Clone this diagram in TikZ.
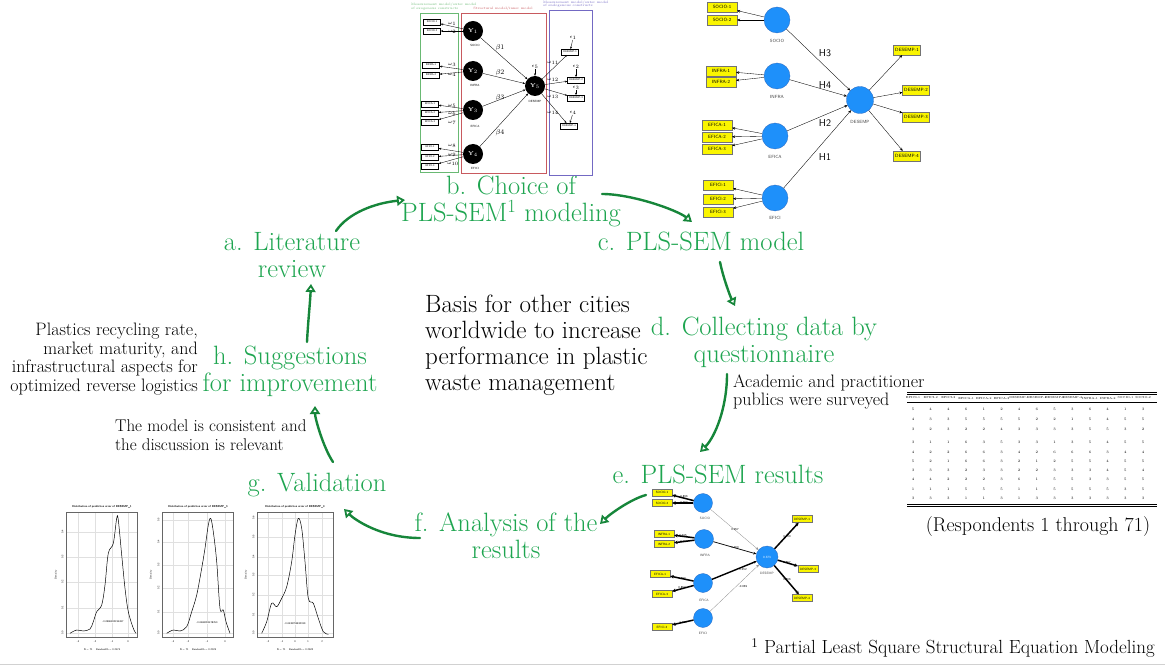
\documentclass[tikz,border=0pt]{standalone}
\usepackage{tikz}
\usetikzlibrary{arrows.meta,calc}

\definecolor{stagegreen}{RGB}{30,165,80}
\definecolor{handgreen}{RGB}{22,134,58}
\definecolor{lvblue}{RGB}{30,144,250}
\definecolor{lvedge}{RGB}{45,105,190}
\definecolor{mvyellow}{RGB}{250,245,0}
\definecolor{exogreen}{RGB}{105,185,115}
\definecolor{innerred}{RGB}{200,90,95}
\definecolor{endoblue}{RGB}{115,105,195}

\begin{document}
\begin{tikzpicture}[x=1pt,y=-1pt,
  stage/.style={text=stagegreen, align=center, inner sep=0pt, font=\fontsize{26.5}{27}\selectfont},
  remark/.style={inner sep=0pt, font=\fontsize{18}{18.8}\selectfont},
  stagearrow/.style={draw=handgreen, line width=2.4pt, line cap=round, line join=round,
    -{Triangle[open,length=8pt,width=10pt,line width=1.8pt]}},
  latent/.style={circle, fill=black, minimum size=20pt, inner sep=0pt, text=white,
    font=\bfseries\fontsize{5.5}{5.5}\selectfont},
  itembox/.style={draw, line width=0.35pt, fill=white, inner sep=0pt, minimum width=17pt,
    minimum height=5.5pt, font=\sffamily\fontsize{2.6}{3}\selectfont},
  tinylab/.style={inner sep=0pt, font=\sffamily\fontsize{3}{3.4}\selectfont},
  greek/.style={inner sep=0pt, font=\fontsize{5}{5}\selectfont},
  thinarrow/.style={-{Stealth[length=2.5pt,width=2pt]}, line width=0.35pt},
  lv/.style={circle, fill=lvblue, draw=lvedge, line width=0.3pt, inner sep=0pt},
  mv/.style={draw=black!55, fill=mvyellow, line width=0.3pt, inner sep=0pt},
  lvname/.style={inner sep=0pt, text=black!75, font=\sffamily\fontsize{4.5}{5}\selectfont},
  weight/.style={inner sep=0.2pt, font=\sffamily\fontsize{3}{3}\selectfont},
  pathlink/.style={-{Stealth[length=3pt,width=2.6pt]}, line width=0.35pt},
  plotframe/.style={draw=black!60, line width=0.5pt},
  gridline/.style={draw=black!12, line width=0.4pt},
  axislab/.style={inner sep=0pt, font=\sffamily\fontsize{2.6}{3}\selectfont},
  cell/.style={inner sep=0pt, font=\fontsize{3.6}{4}\selectfont}
]
\useasboundingbox (0,0) rectangle (1165,668);

% --- the cycle of stages
\node[stage] (litrev) at (292,255) {a. Literature\\review};
\node[stage] (choice) at (511,201) {b. Choice of\\PLS-SEM\textsuperscript{1} modeling};
\node[stage] (plsmodel) at (701,241) {c. PLS-SEM model};
\node[stage] (collect) at (764,342) {d. Collecting data by\\questionnaire};
\node[stage] (results) at (718,474) {e. PLS-SEM results};
\node[stage] (analysis) at (506,536) {f. Analysis of the\\results};
\node[stage] (valid) at (317,485) {g. Validation};
\node[stage] (suggest) at (290,371) {h. Suggestions\\for improvement};

\draw[stagearrow] ($(litrev.center)+(44,-24)$) .. controls +(12,-18) and +(-30,3) .. ($(choice.center)+(-106,-1)$);
\draw[stagearrow] ($(choice.center)+(91,-7)$) .. controls +(30,0) and +(-15,-12) .. ($(plsmodel.center)+(-9,-19)$);
\draw[stagearrow] ($(plsmodel.center)+(19,21)$) .. controls +(3,15) and +(-5,-10) .. ($(collect.center)+(-29,-36)$);
\draw[stagearrow] ($(collect.center)+(-37,32)$) .. controls +(0,34) and +(15,-15) .. ($(results.center)+(-18,-22)$);
\draw[stagearrow] ($(results.center)+(-72,21)$) .. controls +(-15,4) and +(10,-10) .. ($(analysis.center)+(94,-12)$);
\draw[stagearrow] ($(analysis.center)+(-86,2)$) .. controls +(-40,0) and +(10,10) .. ($(valid.center)+(27,24)$);
\draw[stagearrow] ($(valid.center)+(16,-23)$) .. controls +(-10,-15) and +(0,12) .. ($(suggest.center)+(25,35)$);
\draw[stagearrow] ($(suggest.center)+(17,-29)$) .. controls +(1,-20) and +(-1,20) .. ($(litrev.center)+(19,29)$);

% --- remarks
\node[inner sep=0pt, anchor=west, align=left, font=\fontsize{25}{26}\selectfont] (basis) at (425,345)
  {Basis for other cities\\worldwide to increase\\performance in plastic\\waste management};
\node[remark, anchor=east, align=right] (aspects) at (198,359)
  {Plastics recycling rate,\\market maturity, and\\infrastructural aspects for\\optimized reverse logistics};
\node[remark, anchor=west, align=left, font=\fontsize{17}{18.5}\selectfont] (consistent) at (115,435)
  {The model is consistent and\\the discussion is relevant};
\node[remark, anchor=west, align=left] (surveyed) at (733,392)
  {Academic and practitioner\\publics were surveyed};
\node[inner sep=0pt, font=\fontsize{20}{22}\selectfont] (respond) at (1038,527) {(Respondents 1 through 71)};
\node[inner sep=0pt, anchor=east, font=\fontsize{19}{21}\selectfont] (footnote) at (1155,648)
  {\textsuperscript{1} Partial Least Square Structural Equation Modeling};
\draw[black!18, line width=0.6pt] (0,664) -- (1165,664);

% --- sketch of structural and measurement models
\draw[exogreen, line width=0.6pt] (420,13) rectangle (458,172);
\draw[innerred, line width=0.6pt] (461,13) rectangle (546,173);
\draw[endoblue, line width=0.6pt] (549,10) rectangle (592,175);
\node[tinylab, font=\fontsize{3.3}{3.6}\selectfont, text=exogreen, align=left, anchor=west] (exotitle) at (411,6.5) {Measurement model/outer model\\of exogenous constructs};
\node[tinylab, font=\fontsize{3.3}{3.6}\selectfont, text=innerred] (innertitle) at (503,9) {Structural model/inner model};
\node[tinylab, font=\fontsize{3.3}{3.6}\selectfont, text=endoblue, align=left, anchor=west] (endotitle) at (543,4) {Measurement model/outer model\\of endogenous constructs};

\node[latent] (y1) at (473,31) {Y$_1$};
\node[latent] (y2) at (473,71) {Y$_2$};
\node[latent] (y3) at (473,110) {Y$_3$};
\node[latent] (y4) at (473,154) {Y$_4$};
\node[latent] (y5) at (535,86) {Y$_5$};
\node[tinylab] (y1name) at (475,45) {SOCIO};
\node[tinylab] (y2name) at (475,85) {INFRA};
\node[tinylab] (y3name) at (475,126) {EFICA};
\node[tinylab] (y4name) at (475,168.5) {EFICI};
\node[tinylab] (y5name) at (535,101) {DESEMP};

\node[itembox] (sksocio1) at (432,22) {SOCIO-1};
\node[itembox] (sksocio2) at (432,31) {SOCIO-2};
\node[itembox] (skinfra1) at (431,65) {INFRA-1};
\node[itembox] (skinfra2) at (431,75) {INFRA-2};
\node[itembox] (skefica1) at (430,104) {EFICA-1};
\node[itembox] (skefica2) at (430,113) {EFICA-2};
\node[itembox] (skefica3) at (430,122) {EFICA-3};
\node[itembox] (skefici1) at (430,147) {EFICI-1};
\node[itembox] (skefici2) at (430,157) {EFICI-2};
\node[itembox] (skefici3) at (430,166) {EFICI-3};
\node[itembox] (skdesemp1) at (570,52) {DESEMP-1};
\node[itembox] (skdesemp2) at (576,80) {DESEMP-2};
\node[itembox] (skdesemp3) at (576,98) {DESEMP-3};
\node[itembox] (skdesemp4) at (569,126) {DESEMP-4};

\foreach \lv/\mv in {y1/sksocio1, y1/sksocio2, y2/skinfra1, y2/skinfra2, y3/skefica1, y3/skefica2, y3/skefica3,
    y4/skefici1, y4/skefici2, y4/skefici3, y5/skdesemp1, y5/skdesemp2, y5/skdesemp3, y5/skdesemp4}
  \draw[thinarrow] (\lv) -- (\mv);
\foreach \lv in {y1,y2,y3,y4}
  \draw[thinarrow] (\lv) -- (y5);

\node[greek] (om1) at (452,24) {$\omega_{1}$};
\node[greek] (om2) at (452,32) {$\omega_{2}$};
\node[greek] (om3) at (452,65) {$\omega_{3}$};
\node[greek] (om4) at (452,75) {$\omega_{4}$};
\node[greek] (om5) at (452,106) {$\omega_{5}$};
\node[greek] (om6) at (452,114) {$\omega_{6}$};
\node[greek] (om7) at (452,123) {$\omega_{7}$};
\node[greek] (om8) at (452,146) {$\omega_{8}$};
\node[greek] (om9) at (452,155) {$\omega_{9}$};
\node[greek] (om10) at (453,164) {$\omega_{10}$};
\node[greek] (om11) at (553,63) {$\omega_{11}$};
\node[greek] (om12) at (553,80) {$\omega_{12}$};
\node[greek] (om13) at (553,97) {$\omega_{13}$};
\node[greek] (om14) at (553,113) {$\omega_{14}$};
\node[greek, font=\fontsize{7}{7}\selectfont] (beta1) at (500,48) {$\beta1$};
\node[greek, font=\fontsize{7}{7}\selectfont] (beta2) at (500,73) {$\beta2$};
\node[greek, font=\fontsize{7}{7}\selectfont] (beta3) at (500,98) {$\beta3$};
\node[greek, font=\fontsize{7}{7}\selectfont] (beta4) at (500,133) {$\beta4$};
\node[greek] (eps5) at (535,67) {$\epsilon_{5}$};
\node[greek] (eps1) at (573,38) {$\epsilon_{1}$};
\node[greek] (eps2) at (576,67) {$\epsilon_{2}$};
\node[greek] (eps3) at (576,88) {$\epsilon_{3}$};
\node[greek] (eps4) at (573,113) {$\epsilon_{4}$};
\draw[thinarrow] (eps5) -- (y5);
\draw[thinarrow] (eps1) -- (skdesemp1);
\draw[thinarrow] (eps2) -- (skdesemp2);
\draw[thinarrow] (eps3) -- (skdesemp3);
\draw[thinarrow] (eps4) -- (skdesemp4);

% --- PLS-SEM model (hypotheses)
\node[lv, minimum size=26pt] (msocio) at (777,20) {};
\node[lv, minimum size=26pt] (minfra) at (777,76) {};
\node[lv, minimum size=26pt] (mefica) at (775,136) {};
\node[lv, minimum size=26pt] (mefici) at (775,198) {};
\node[lv, minimum size=27pt] (mdesemp) at (860,100) {};
\node[lvname] (msocioname) at (777,41) {SOCIO};
\node[lvname] (minfraname) at (777,97) {INFRA};
\node[lvname] (meficaname) at (775,157) {EFICA};
\node[lvname] (meficiname) at (775,218) {EFICI};
\node[lvname] (mdesempname) at (860,122) {DESEMP};

\tikzset{mvbig/.style={mv, minimum width=30pt, minimum height=10pt, font=\sffamily\fontsize{4.6}{5}\selectfont}}
\node[mvbig] (msocio1) at (722,7) {SOCIO-1};
\node[mvbig] (msocio2) at (722,20) {SOCIO-2};
\node[mvbig] (minfra1) at (721,71) {INFRA-1};
\node[mvbig] (minfra2) at (721,82) {INFRA-2};
\node[mvbig] (mefica1) at (717,125) {EFICA-1};
\node[mvbig] (mefica2) at (717,137) {EFICA-2};
\node[mvbig] (mefica3) at (717,149) {EFICA-3};
\node[mvbig] (mefici1) at (718,185) {EFICI-1};
\node[mvbig] (mefici2) at (718,199) {EFICI-2};
\node[mvbig] (mefici3) at (718,212) {EFICI-3};
\node[mvbig, minimum width=27pt] (mdesemp1) at (907,50) {DESEMP-1};
\node[mvbig, minimum width=27pt] (mdesemp2) at (916,90) {DESEMP-2};
\node[mvbig, minimum width=27pt] (mdesemp3) at (916,117) {DESEMP-3};
\node[mvbig, minimum width=27pt] (mdesemp4) at (907,156) {DESEMP-4};

\foreach \lv/\mv in {msocio/msocio1, msocio/msocio2, minfra/minfra1, minfra/minfra2, mefica/mefica1, mefica/mefica2,
    mefica/mefica3, mefici/mefici1, mefici/mefici2, mefici/mefici3, mdesemp/mdesemp1, mdesemp/mdesemp2,
    mdesemp/mdesemp3, mdesemp/mdesemp4}
  \draw[pathlink] (\lv) -- (\mv);
\foreach \lv in {msocio,minfra,mefica,mefici}
  \draw[pathlink] (\lv) -- (mdesemp);
\node[inner sep=0pt, font=\sffamily\fontsize{10}{10}\selectfont] (hyp3) at (825,53) {H3};
\node[inner sep=0pt, font=\sffamily\fontsize{10}{10}\selectfont] (hyp4) at (825,85) {H4};
\node[inner sep=0pt, font=\sffamily\fontsize{10}{10}\selectfont] (hyp2) at (825,123) {H2};
\node[inner sep=0pt, font=\sffamily\fontsize{10}{10}\selectfont] (hyp1) at (825,157) {H1};

% --- PLS-SEM results
\node[lv, minimum size=19pt] (rsocio) at (703,503) {};
\node[lv, minimum size=19pt] (rinfra) at (704,539) {};
\node[lv, minimum size=19pt] (refica) at (703,583) {};
\node[lv, minimum size=19pt] (refici) at (703,618) {};
\node[lv, minimum size=22pt, text=white, font=\sffamily\fontsize{3.2}{3.2}\selectfont] (rdesemp) at (767,557) {0.373};
\node[lvname, font=\sffamily\fontsize{3.2}{3.5}\selectfont] (rsocioname) at (705,518) {SOCIO};
\node[lvname, font=\sffamily\fontsize{3.2}{3.5}\selectfont] (rinfraname) at (705,555) {INFRA};
\node[lvname, font=\sffamily\fontsize{3.2}{3.5}\selectfont] (reficaname) at (704,600) {EFICA};
\node[lvname, font=\sffamily\fontsize{3.2}{3.5}\selectfont] (reficiname) at (703,633) {EFICI};
\node[lvname, font=\sffamily\fontsize{3.2}{3.5}\selectfont] (rdesempname) at (767,573) {DESEMP};

\tikzset{mvsmall/.style={mv, minimum width=20pt, minimum height=7pt, font=\sffamily\fontsize{3.1}{3.5}\selectfont}}
\node[mvsmall] (rsocio1) at (662,492.5) {SOCIO-1};
\node[mvsmall] (rsocio2) at (662,503) {SOCIO-2};
\node[mvsmall] (rinfra1) at (664,534) {INFRA-1};
\node[mvsmall] (rinfra2) at (664,544) {INFRA-2};
\node[mvsmall] (refica1) at (660,574) {EFICA-1};
\node[mvsmall] (refica3) at (662,594) {EFICA-3};
\node[mvsmall] (refici3) at (662,627) {EFICI-3};
\node[mvsmall] (rdesemp1) at (802,519) {DESEMP-1};
\node[mvsmall] (rdesemp3) at (808,569) {DESEMP-3};
\node[mvsmall] (rdesemp4) at (802,598) {DESEMP-4};

\foreach \lv/\mv in {rsocio/rsocio1, rsocio/rsocio2, rinfra/rinfra1, rinfra/rinfra2, refica/refica1,
    refica/refica3, refici/refici3, rdesemp/rdesemp1, rdesemp/rdesemp3, rdesemp/rdesemp4}
  \draw[pathlink, line width=1.5pt, -{Stealth[length=3.5pt,width=3.5pt]}] (\lv) -- (\mv);
\draw[pathlink, draw=black!45, line width=0.3pt] (rsocio) -- (rdesemp);
\draw[pathlink, line width=0.7pt] (rinfra) -- (rdesemp);
\draw[pathlink, line width=1.4pt] (refica) -- (rdesemp);
\draw[pathlink, draw=black!45, line width=0.3pt] (refici) -- (rdesemp);
\node[weight] (wsocio1) at (684,496.5) {0.896};
\node[weight] (wsocio2) at (684,503) {0.963};
\node[weight] (winfra1) at (683,536) {0.945};
\node[weight] (winfra2) at (684,542) {0.907};
\node[weight] (wefica1) at (682,579) {0.880};
\node[weight] (wefica3) at (682,588) {0.857};
\node[weight] (wefici3) at (683,623) {1.000};
\node[weight] (wsocio) at (735,530) {0.057};
\node[weight] (winfra) at (735,548) {0.260};
\node[weight] (wefica) at (743,570) {0.452};
\node[weight] (wefici) at (743,587) {-0.069};
\node[weight] (wdesemp1) at (787,537) {0.760};
\node[weight] (wdesemp3) at (787,563) {0.857};
\node[weight] (wdesemp4) at (787,580) {0.866};

% --- predictive error densities
\foreach \gx in {78,95,112,128} \draw[gridline] (\gx,512) -- (\gx,637);
\foreach \gy in {633,608,582,557,532} \draw[gridline] (66,\gy) -- (137,\gy);
\draw[line width=0.5pt] plot[smooth, tension=0.55] coordinates {(70,633.3) (76.7,630) (83.3,631) (90,629) (93.3,621.7)
  (96.7,611.7) (101.7,605) (105,585) (108.3,553.3) (113.3,543.3) (116.7,518.3) (118.3,520) (121.7,555) (125,588.3)
  (128.3,611.7) (133.3,628.3) (136,633.3)};
\draw[plotframe] (66,512) rectangle (137,637);
\node[axislab, font=\sffamily\bfseries\fontsize{2.8}{3}\selectfont] (p1title) at (102,507) {Distribution of predictive error of DESEMP\_1};
\node[axislab, fill=white] (p1mean) at (113,622) {-0.0986632234497};
\node[axislab, rotate=90] (p1dens) at (56,575) {Density};
\node[axislab] (p1stats) at (102,650) {N = 71 \quad Bandwidth = 0.2474};
\foreach \gx/\t in {78/-3,95/-2,112/-1,128/0} \node[axislab] (p1x\gx) at (\gx,642) {\t};
\foreach \gy/\t in {633/0.0,608/0.1,582/0.2,557/0.3,532/0.4} \node[axislab, rotate=90] (p1y\gy) at (62.5,\gy) {\t};

\foreach \gx in {173,188,207,225} \draw[gridline] (\gx,512) -- (\gx,637);
\foreach \gy in {633,612,588,565,542,520} \draw[gridline] (162,\gy) -- (233,\gy);
\draw[line width=0.5pt] plot[smooth, tension=0.55] coordinates {(166.7,633.3) (173.3,630) (180,631) (186.7,626.7)
  (191.7,611.7) (196.7,595) (201.7,568.3) (205,548.3) (208.3,525) (210.7,518.3) (213.3,531.7) (216.7,561.7)
  (220,608.3) (223.3,610) (226,621.7) (230,633.3)};
\draw[plotframe] (162,512) rectangle (233,637);
\node[axislab, font=\sffamily\bfseries\fontsize{2.8}{3}\selectfont] (p2title) at (198,507) {Distribution of predictive error of DESEMP\_3};
\node[axislab, fill=white] (p2mean) at (207,623) {-0.0468051478250};
\node[axislab, rotate=90] (p2dens) at (151,575) {Density};
\node[axislab] (p2stats) at (198,650) {N = 71 \quad Bandwidth = 0.2325};
\foreach \gx/\t in {173/-3,188/-2,207/-1,225/0} \node[axislab] (p2x\gx) at (\gx,642) {\t};
\foreach \gy/\t in {633/0.0,612/0.1,588/0.2,565/0.3,542/0.4,520/0.5} \node[axislab, rotate=90] (p2y\gy) at (158.5,\gy) {\t};

\foreach \gx in {268,282,295,308,322} \draw[gridline] (\gx,512) -- (\gx,637);
\foreach \gy in {633,615,595,575,557,537,518} \draw[gridline] (257,\gy) -- (333,\gy);
\draw[line width=0.5pt] plot[smooth, tension=0.55] coordinates {(261.7,633.3) (266.7,621.7) (271.7,603.3) (276.7,606.7)
  (281.7,598.3) (286.7,586.7) (291.7,561.7) (295,535) (298.3,518.3) (301.7,528.3) (305,561.7) (308.3,598.3)
  (313.3,603.3) (318.3,618.3) (323.3,631.7) (328.3,634.3)};
\draw[plotframe] (257,512) rectangle (333,637);
\node[axislab, font=\sffamily\bfseries\fontsize{2.8}{3}\selectfont] (p3title) at (295,507) {Distribution of predictive error of DESEMP\_4};
\node[axislab, fill=white] (p3mean) at (295,624) {-0.0438754832199};
\node[axislab, rotate=90] (p3dens) at (246,575) {Density};
\node[axislab] (p3stats) at (295,650) {N = 71 \quad Bandwidth = 0.2620};
\foreach \gx/\t in {268/-2,282/-1,295/0,308/1,322/2} \node[axislab] (p3x\gx) at (\gx,642) {\t};
\foreach \gy/\t in {633/0.0,615/0.1,595/0.2,575/0.3,557/0.4,537/0.5,518/0.6} \node[axislab, rotate=90] (p3y\gy) at (253.5,\gy) {\t};

% --- questionnaire data
\draw[line width=0.5pt] (907,392) -- (1157,392);
\draw[line width=0.5pt] (907,394) -- (1157,394);
\draw[line width=0.3pt] (907,402) -- (1157,402);
\draw[line width=0.5pt] (907,504) -- (1157,504);
\draw[line width=0.5pt] (907,506) -- (1157,506);
\foreach \name [count=\c from 0] in {EFICI-1,EFICI-2,EFICI-3,EFICA-1,EFICA-2,EFICA-3,DESEMP-1,DESEMP-2,DESEMP-3,DESEMP-4,INFRA-1,INFRA-2,SOCIO-1,SOCIO-2}
  \node[cell, font=\fontsize{2.9}{3.5}\selectfont] (head\c) at (913+17.7*\c,398) {\name};
\foreach \ry/\vals [count=\r] in {409/{5,4,4,6,1,2,4,6,5,3,6,4,1,3}, 419/{4,3,3,5,5,5,5,2,2,1,5,4,5,5},
    429/{3,2,3,2,2,4,3,3,3,3,5,5,3,2}, 442/{3,1,1,6,3,5,3,3,1,3,5,4,5,5}, 452/{4,2,2,6,6,3,4,2,6,6,6,3,4,4},
    461/{5,2,1,6,6,3,2,1,2,5,5,4,5,5}, 470/{3,3,3,2,3,3,2,2,3,3,3,4,5,4}, 479/{4,4,2,2,2,3,6,1,5,5,3,3,5,5},
    489/{1,1,1,5,5,5,1,1,5,5,5,5,3,5}, 498/{3,3,3,1,1,3,1,3,3,3,3,3,3,3}}
  \foreach \v [count=\c from 0] in \vals
    \node[cell] (cell\r-\c) at (913+17.7*\c,\ry) {\v};
\end{tikzpicture}
\end{document}
